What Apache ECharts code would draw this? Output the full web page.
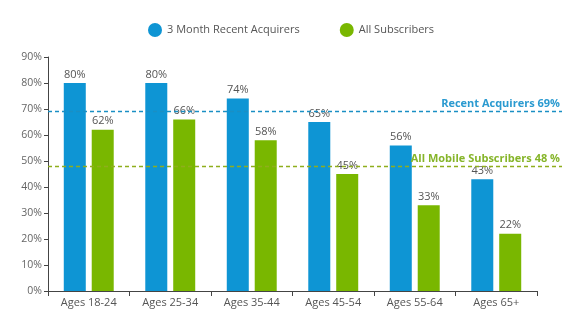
<!DOCTYPE html>
<html><head><meta charset="utf-8">
<script src="https://cdn.jsdelivr.net/npm/echarts@6/dist/echarts.min.js"></script>
<style>html,body{margin:0;padding:0;background:#fff}#c{width:566px;height:322px}</style>
</head><body><div id="c"></div>
<script>
var categories = ['Ages 18-24','Ages 25-34','Ages 35-44','Ages 45-54','Ages 55-64','Ages 65+'];
var recentAcquirers = [80, 80, 74, 65, 56, 43];
var allSubscribers = [62, 66, 58, 45, 33, 22];
var avgRecent = 69;
var avgAll = 48;
var seriesNames = ['3 Month Recent Acquirers', 'All Subscribers'];
var avgLabels = ['Recent Acquirers 69%', 'All Mobile Subscribers 48 %'];

var BLUE = '#0e95d4', GREEN = '#79b700';
var FONT = '"Open Sans", "Noto Sans", sans-serif';
var chart = echarts.init(document.getElementById('c'));
chart.setOption({
  animation: false,
  textStyle: {fontFamily: FONT},
  legend: {
    top: 18, left: 143, itemWidth: 14, itemHeight: 14, itemGap: 40,
    icon: 'circle',
    textStyle: {color: '#555', fontSize: 11, fontFamily: FONT},
    data: seriesNames
  },
  grid: [
    {left: 48, right: 29, top: 57, bottom: 31},
    {left: 48, right: 4, top: 57, bottom: 31}
  ],
  xAxis: [
    {type: 'category', data: categories, gridIndex: 0,
     axisLine: {lineStyle: {color: '#444'}},
     axisTick: {show: true, length: 5, lineStyle: {color: '#444'}},
     axisLabel: {color: '#555', fontSize: 11, margin: 6, fontFamily: FONT}},
    {type: 'value', gridIndex: 1, min: 0, max: 1, show: false}
  ],
  yAxis: [
    {type: 'value', gridIndex: 0, min: 0, max: 90, interval: 10,
     axisLine: {show: true, lineStyle: {color: '#444'}},
     axisTick: {show: true, length: 4, lineStyle: {color: '#444'}},
     splitLine: {show: false},
     axisLabel: {color: '#666', fontSize: 10.5, margin: 6, formatter: '{value}%', fontFamily: FONT}},
    {type: 'value', gridIndex: 1, min: 0, max: 90, show: false}
  ],
  series: [
    {name: seriesNames[0], type: 'bar', data: recentAcquirers, barWidth: 22, barGap: '27%',
     itemStyle: {color: BLUE},
     label: {show: true, position: 'top', formatter: '{c}%', color: '#555', fontSize: 11, distance: 3, fontFamily: FONT}},
    {name: seriesNames[1], type: 'bar', data: allSubscribers, barWidth: 22,
     itemStyle: {color: GREEN},
     label: {show: true, position: 'top', formatter: '{c}%', color: '#555', fontSize: 11, distance: 3, fontFamily: FONT}},
    {type: 'line', xAxisIndex: 1, yAxisIndex: 1, data: [], silent: true,
     markLine: {symbol: 'none', silent: true,
       data: [
         {yAxis: avgRecent, lineStyle: {color: '#1a8fc4', type: [4, 3], width: 1.3},
          label: {show: true, position: 'insideEndTop', formatter: avgLabels[0], color: '#2a9ad0', fontWeight: 'bold', fontSize: 11, distance: 2, fontFamily: FONT}},
         {yAxis: avgAll, lineStyle: {color: '#8fae1c', type: [4, 3], width: 1.3},
          label: {show: true, position: 'insideEndTop', formatter: avgLabels[1], color: '#86b52a', fontWeight: 'bold', fontSize: 11, distance: 2, fontFamily: FONT}}
       ]}}
  ]
});
</script></body></html>
